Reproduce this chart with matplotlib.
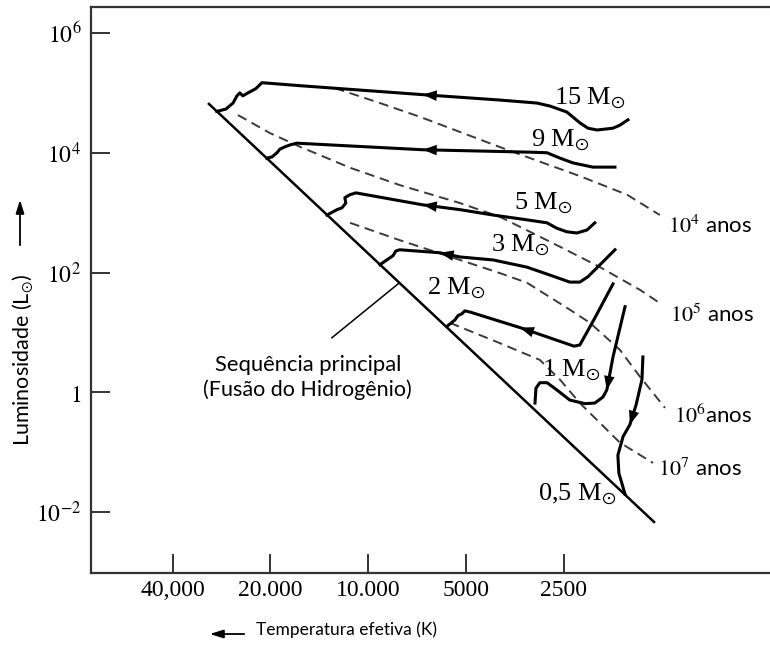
import matplotlib
matplotlib.use('Agg')
import matplotlib.pyplot as plt
from matplotlib.ticker import NullLocator

plt.rcParams['mathtext.fontset'] = 'stix'
SERIF = ['Liberation Serif', 'DejaVu Serif']
SANS = ['Lato', 'DejaVu Sans']

# values: log10 T (K), log10 L (Lsun); tracks in evolution order
ms_logT = [4.493, 3.118]
ms_logL = [4.83, -2.18]

m15_logT = [3.201, 3.226, 3.247, 3.296, 3.324, 3.349, 3.389, 3.441, 3.481, 3.595, 3.832,
            4.210, 4.327, 4.346, 4.370, 4.386, 4.395, 4.404, 4.416, 4.438, 4.466]
m15_logL = [4.55, 4.46, 4.41, 4.38, 4.41, 4.50, 4.68, 4.78, 4.83, 4.88, 4.97,
            5.12, 5.17, 5.07, 5.00, 4.95, 5.00, 4.95, 4.83, 4.73, 4.69]

m9_logT = [3.241, 3.309, 3.370, 3.410, 3.450, 3.503, 3.832, 4.220, 4.241, 4.256, 4.272,
           4.281, 4.296, 4.312]
m9_logL = [3.76, 3.76, 3.83, 3.91, 4.00, 4.01, 4.05, 4.16, 4.13, 4.10, 4.06,
           4.00, 3.93, 3.91]

m5_logT = [3.303, 3.327, 3.358, 3.389, 3.420, 3.450, 3.512, 3.616, 3.718, 3.832, 4.038,
           4.056, 4.072, 4.069, 4.081, 4.096, 4.127]
m5_logL = [2.83, 2.71, 2.66, 2.68, 2.74, 2.83, 2.88, 2.96, 3.05, 3.13, 3.33,
           3.30, 3.25, 3.16, 3.08, 3.05, 2.96]

m3_logT = [3.241, 3.287, 3.324, 3.349, 3.380, 3.432, 3.512, 3.616, 3.718, 3.780, 3.903,
           3.915, 3.924, 3.943, 3.964]
m3_logL = [2.38, 2.13, 1.93, 1.84, 1.84, 1.94, 2.09, 2.21, 2.26, 2.33, 2.38,
           2.36, 2.28, 2.21, 2.13]

m2_logT = [3.247, 3.303, 3.349, 3.367, 3.533, 3.687, 3.703, 3.712, 3.724, 3.733, 3.758]
m2_logL = [1.81, 1.24, 0.79, 0.77, 1.08, 1.34, 1.36, 1.31, 1.28, 1.21, 1.10]

m1_logT = [3.210, 3.247, 3.266, 3.278, 3.303, 3.333, 3.380, 3.420, 3.450, 3.472, 3.484, 3.487]
m1_logL = [1.43, 0.59, 0.04, -0.08, -0.18, -0.19, -0.13, 0.04, 0.16, 0.16, 0.07, -0.18]

m05_logT = [3.155, 3.158, 3.176, 3.195, 3.216, 3.232, 3.229, 3.210]
m05_logL = [0.59, 0.21, -0.21, -0.54, -0.74, -1.05, -1.35, -1.70]

# isochrones
iso4_logT = [4.103, 3.964, 3.841, 3.573, 3.349, 3.204, 3.103]
iso4_logL = [5.08, 4.83, 4.60, 4.05, 3.61, 3.30, 2.96]
iso5_logT = [4.401, 4.303, 4.210, 4.056, 3.903, 3.718, 3.595, 3.410, 3.287, 3.164, 3.103]
iso5_logL = [4.63, 4.33, 4.10, 3.75, 3.46, 3.16, 2.93, 2.43, 2.09, 1.71, 1.49]
iso6_logT = [4.056, 3.903, 3.718, 3.595, 3.512, 3.380, 3.318, 3.226, 3.164, 3.087]
iso6_logL = [2.83, 2.54, 2.21, 1.99, 1.83, 1.38, 1.16, 0.71, 0.26, -0.26]
iso7_logT = [3.749, 3.595, 3.472, 3.410, 3.349, 3.226, 3.124]
iso7_logL = [1.16, 0.82, 0.54, 0.21, -0.18, -0.84, -1.18]

xtick_vals = [40000, 20000, 10000, 5000, 2500]
xtick_labels = ['40,000', '20.000', '10.000', '5000', '2500']
ytick_vals = [1e6, 1e4, 1e2, 1, 1e-2]
ytick_labels = [r'$10^{6}$', r'$10^{4}$', r'$10^{2}$', r'$1$', r'$10^{-2}$']

tracks = [
    (m15_logT, m15_logL, 10, r'15 M$_{\odot}$', 3.318, 4.91),
    (m9_logT, m9_logL, 6, r'9 M$_{\odot}$', 3.410, 4.21),
    (m5_logT, m5_logL, 9, r'5 M$_{\odot}$', 3.460, 3.16),
    (m3_logT, m3_logL, 9, r'3 M$_{\odot}$', 3.533, 2.46),
    (m2_logT, m2_logL, 4, r'2 M$_{\odot}$', 3.730, 1.73),
    (m1_logT, m1_logL, 2, r'1 M$_{\odot}$', 3.376, 0.36),
    (m05_logT, m05_logL, 3, r'0,5 M$_{\odot}$', 3.358, -1.71),
]
isochrones = [
    (iso4_logT, iso4_logL, r'$10^{4}$ anos', 2.949, 2.78),
    (iso5_logT, iso5_logL, r'$10^{5}$ anos', 2.943, 1.29),
    (iso6_logT, iso6_logL, r'$10^{6}$anos', 2.939, -0.39),
    (iso7_logT, iso7_logL, r'$10^{7}$ anos', 2.980, -1.28),
]


def lin(a):
    return [10 ** v for v in a]


W, H = 770, 650
fig = plt.figure(figsize=(W / 100, H / 100), dpi=100)
ax = fig.add_axes([91 / W, 1 - 573 / H, 1 - 91 / W, (573 - 7) / H])
ax.set_xscale('log')
ax.set_yscale('log')
ax.set_xlim(10 ** 4.853, 10 ** 2.764)
ax.set_ylim(10 ** -3.018, 10 ** 6.434)

# main sequence
ax.plot(lin(ms_logT), lin(ms_logL), color='black', lw=1.8, solid_capstyle='butt')

for lt, ll, lab, tx, ty in isochrones:
    ax.plot(lin(lt), lin(ll), color='#3a3a3a', lw=1.4, linestyle=(0, (5, 3)))
    ax.text(10 ** tx, 10 ** ty, lab, ha='center', va='center', fontsize=16,
            family=SANS)

for lt, ll, ia, lab, tx, ty in tracks:
    ax.plot(lin(lt), lin(ll), color='black', lw=2.2, solid_joinstyle='round')
    ax.annotate('', xy=(10 ** lt[ia], 10 ** ll[ia]),
                xytext=(10 ** lt[ia - 1], 10 ** ll[ia - 1]),
                arrowprops=dict(arrowstyle='-|>,head_length=1.0,head_width=0.38',
                                color='black', lw=0, shrinkA=0, shrinkB=0,
                                mutation_scale=10))
    ax.text(10 ** tx, 10 ** ty, lab, ha='center', va='center', fontsize=19,
            family=SERIF)

# pointer to the main sequence
ax.plot(lin([4.112, 3.906]), lin([0.91, 1.82]), color='black', lw=1.1)
ax.text(10 ** 4.186, 10 ** 0.46, 'Sequência principal', ha='center', va='center',
        fontsize=15.8, family=SANS)
ax.text(10 ** 4.186, 10 ** 0.04, '(Fusão do Hidrogênio)', ha='center', va='center',
        fontsize=15.5, family=SANS)

ax.set_xticks(xtick_vals)
ax.set_xticklabels(xtick_labels, family=SERIF)
ax.set_yticks(ytick_vals)
ax.set_yticklabels(ytick_labels)
ax.xaxis.set_minor_locator(NullLocator())
ax.yaxis.set_minor_locator(NullLocator())
ax.tick_params(direction='in', length=14, width=1.4, labelsize=17, color='#333333')
ax.tick_params(axis='x', pad=5)
ax.tick_params(axis='y', pad=7)
ax.spines['right'].set_visible(False)
for s in ['left', 'top', 'bottom']:
    ax.spines[s].set_linewidth(1.6)
    ax.spines[s].set_color('#333333')

fig.text(23 / W, 1 - 360 / H, r'Luminosidade (L$_{\odot}$)', rotation=90,
         ha='center', va='center', fontsize=15.5, family=SANS)
fig.text(347 / W, 1 - 630 / H, 'Temperatura efetiva (K)', ha='center', va='center',
         fontsize=12.5, family=SANS)
ax.annotate('', xy=(20 / W, 1 - 197 / H), xytext=(20 / W, 1 - 248 / H),
            xycoords='figure fraction', textcoords='figure fraction',
            arrowprops=dict(arrowstyle='-|>,head_length=0.8,head_width=0.25',
                            color='black', lw=1.3, mutation_scale=10))
ax.annotate('', xy=(207 / W, 1 - 634 / H), xytext=(247 / W, 1 - 634 / H),
            xycoords='figure fraction', textcoords='figure fraction',
            arrowprops=dict(arrowstyle='-|>,head_length=0.8,head_width=0.25',
                            color='black', lw=1.3, mutation_scale=10))

fig.savefig('out.png', dpi=100)
